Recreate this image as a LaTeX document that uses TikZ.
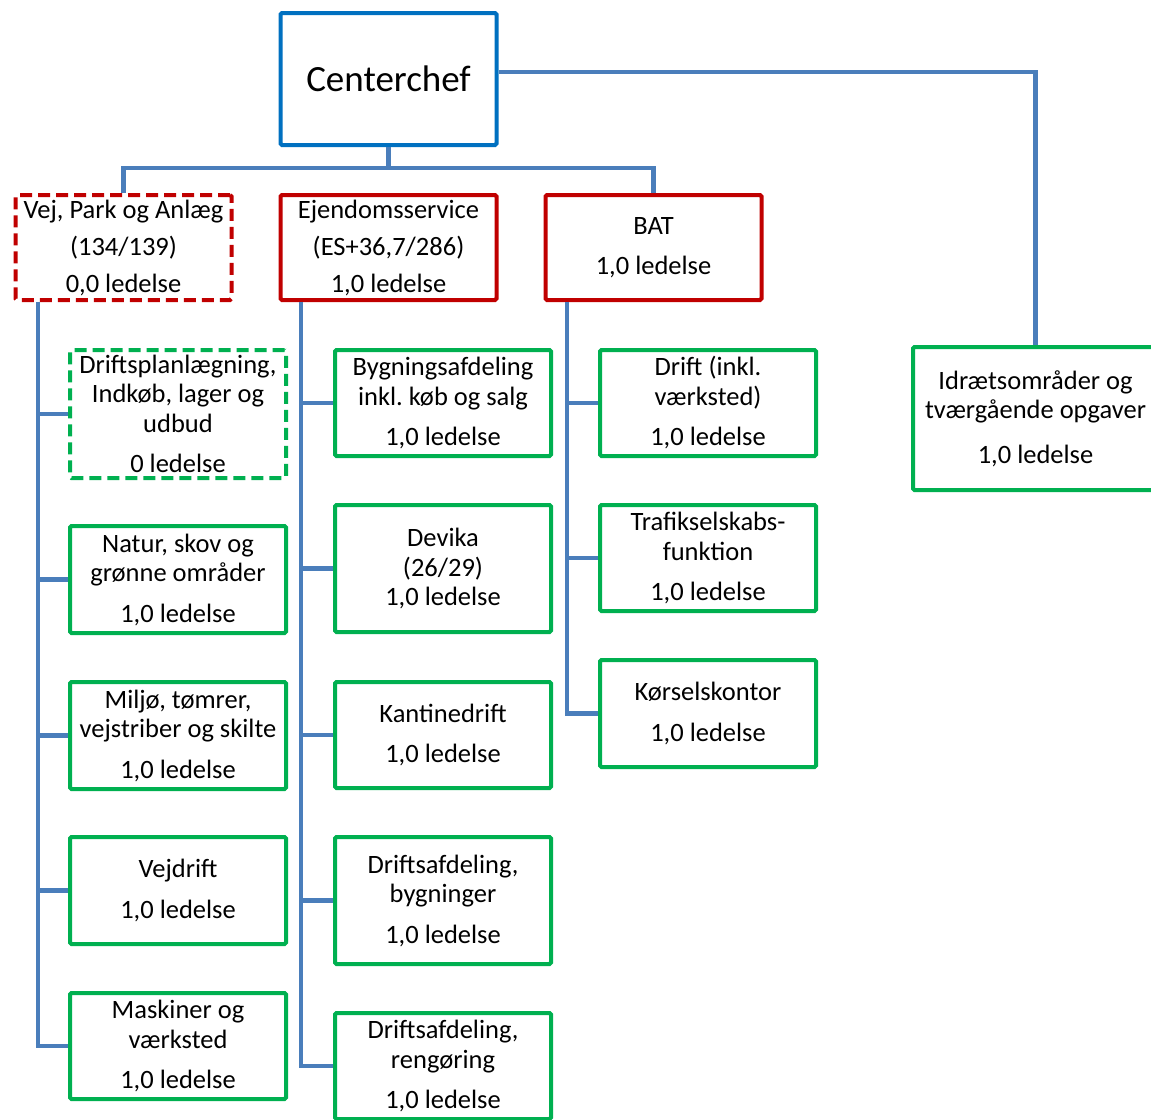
\documentclass[tikz,border=0pt]{standalone}
\usepackage{fontspec}
\setmainfont{Carlito}
\frenchspacing
\definecolor{connc}{HTML}{4A7EBB}
\definecolor{redc}{HTML}{C00000}
\definecolor{greenc}{HTML}{00B050}
\definecolor{bluec}{HTML}{0070C0}
\newcommand\boxfont{\fontsize{26.5pt}{29.5pt}\selectfont}
\begin{document}
\begin{tikzpicture}[x=1pt,y=-1pt,
  box/.style={draw, line width=4pt, rounded corners=1.5pt, align=center, inner sep=0pt, font=\boxfont, fill=white},
  redbox/.style={box, draw=redc, minimum width=216pt, minimum height=105pt},
  greenbox/.style={box, draw=greenc, minimum width=216pt, minimum height=106pt},
  dashbox/.style={dash pattern=on 12pt off 6pt},
  conn/.style={draw=connc, line width=4.5pt}]
\useasboundingbox (0,0) rectangle (1151,1119);

\coordinate (bus) at (388.5,168);
\coordinate (lt) at (38,302);
\coordinate (mt) at (301,302);
\coordinate (rt) at (567,302);

% top level
\node[box, draw=bluec, minimum width=216pt, minimum height=132pt, font=\fontsize{37pt}{42pt}\selectfont] (cc) at (388.5,79) {Centerchef};
\node[redbox, dashbox] (vej) at (123.5,247.5) {Vej, Park og Anlæg\\[7.5pt](134/139)\\[7.5pt]0,0 ledelse};
\node[redbox] (ejd) at (388.5,247.5) {Ejendomsservice\\[7.5pt](ES+36,7/286)\\[7.5pt]1,0 ledelse};
\node[redbox] (bat) at (653.5,247.5) {BAT\\[10.5pt]1,0 ledelse};
\node[greenbox, minimum width=245pt, minimum height=143pt] (id) at (1035.5,418.5) {Idrætsområder og\\tværgående opgaver\\[15pt]1,0 ledelse};

% left column
\node[greenbox, dashbox, minimum height=128pt] (drp) at (178,414) {Driftsplanlægning,\\Indkøb, lager og\\udbud\\[11pt]0 ledelse};
\node[greenbox, minimum height=107pt] (nat) at (178,579.5) {Natur, skov og\\grønne områder\\[11pt]1,0 ledelse};
\node[greenbox, minimum height=107pt] (mil) at (178,735.5) {Miljø, tømrer,\\vejstriber og skilte\\[11pt]1,0 ledelse};
\node[greenbox, minimum height=107pt] (vejd) at (178,890.5) {Vejdrift\\[11pt]1,0 ledelse};
\node[greenbox] (mask) at (178,1046) {Maskiner og\\værksted\\[11pt]1,0 ledelse};

% middle column
\node[greenbox] (byg) at (443,403) {Bygningsafdeling\\inkl. køb og salg\\[11pt]1,0 ledelse};
\node[greenbox, minimum height=127pt] (dev) at (443,568.5) {Devika\\(26/29)\\1,0 ledelse};
\node[greenbox] (kan) at (443,735) {Kantinedrift\\[11pt]1,0 ledelse};
\node[greenbox, minimum height=127pt] (dbyg) at (443,900.5) {Driftsafdeling,\\bygninger\\[11pt]1,0 ledelse};
\node[greenbox] (dren) at (443,1066) {Driftsafdeling,\\rengøring\\[11pt]1,0 ledelse};

% right column
\node[greenbox] (drift) at (708,403) {Drift (inkl.\\værksted)\\[11pt]1,0 ledelse};
\node[greenbox] (traf) at (708,558) {Trafikselskabs-\\funktion\\[11pt]1,0 ledelse};
\node[greenbox, minimum height=107pt] (kor) at (708,713.5) {Kørselskontor\\[11pt]1,0 ledelse};

% tree connectors
\draw[conn] (cc.south) -- (cc.south |- bus);
\draw[conn] (vej.north) -- (vej.north |- bus) -| (bat.north);
\draw[conn] ([yshift=7pt]cc.east) -| (id.north);

\draw[conn] (lt) |- (mask.west);
\foreach \n in {drp,nat,mil,vejd} \draw[conn] (lt |- \n.west) -- (\n.west);
\draw[conn] (mt) |- (dren.west);
\foreach \n in {byg,dev,kan,dbyg} \draw[conn] (mt |- \n.west) -- (\n.west);
\draw[conn] (rt) |- (kor.west);
\foreach \n in {drift,traf} \draw[conn] (rt |- \n.west) -- (\n.west);
\end{tikzpicture}
\end{document}
